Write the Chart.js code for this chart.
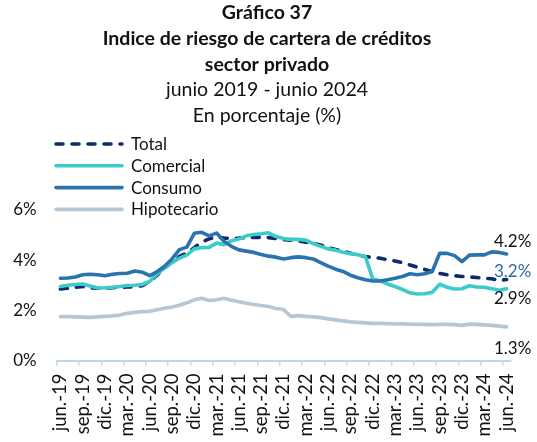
<!DOCTYPE html>
<html><head><meta charset="utf-8">
<script src="https://cdn.jsdelivr.net/npm/chart.js@4.4.1/dist/chart.umd.min.js"></script>
<style>html,body{margin:0;padding:0;background:#fff;overflow:hidden}</style>
</head><body>
<canvas id="c" width="537" height="442" style="display:block;width:537px;height:442px"></canvas>
<script>
const categories = [
 'jun.-19','jul.-19','ago.-19','sep.-19','oct.-19','nov.-19','dic.-19',
 'ene.-20','feb.-20','mar.-20','abr.-20','may.-20','jun.-20','jul.-20','ago.-20','sep.-20','oct.-20','nov.-20','dic.-20',
 'ene.-21','feb.-21','mar.-21','abr.-21','may.-21','jun.-21','jul.-21','ago.-21','sep.-21','oct.-21','nov.-21','dic.-21',
 'ene.-22','feb.-22','mar.-22','abr.-22','may.-22','jun.-22','jul.-22','ago.-22','sep.-22','oct.-22','nov.-22','dic.-22',
 'ene.-23','feb.-23','mar.-23','abr.-23','may.-23','jun.-23','jul.-23','ago.-23','sep.-23','oct.-23','nov.-23','dic.-23',
 'ene.-24','feb.-24','mar.-24','abr.-24','may.-24','jun.-24'];
const total = [2.85,2.88,2.92,2.95,2.90,2.88,2.88,2.90,2.92,2.93, 2.94,2.98,3.15,3.40,3.68,3.92,4.15,4.28,4.50,4.72,
 4.85,4.93,4.88,4.87,4.88,4.90,4.91,4.91,4.90,4.86, 4.82,4.80,4.76,4.72,4.67,4.60,4.50,4.43,4.36,4.28,
 4.20,4.14,4.11,4.08,4.02,3.97,3.90,3.81,3.72,3.63, 3.54,3.47,3.42,3.38,3.35,3.33,3.31,3.28,3.26,3.19,3.23];
const comercial = [2.95,3.00,3.03,3.05,2.97,2.89,2.90,2.92,2.95,2.99, 3.00,3.03,3.15,3.45,3.68,3.90,4.08,4.20,4.45,4.50,
 4.51,4.68,4.62,4.77,4.84,4.97,5.02,5.05,5.09,4.94, 4.86,4.83,4.83,4.80,4.66,4.55,4.45,4.40,4.32,4.26,
 4.22,4.15,3.25,3.18,3.05,2.95,2.83,2.70,2.65,2.66, 2.72,3.04,2.92,2.85,2.86,2.98,2.93,2.92,2.86,2.80,2.86];
const consumo = [3.28,3.29,3.33,3.42,3.44,3.42,3.38,3.44,3.47,3.48, 3.57,3.52,3.38,3.54,3.76,4.05,4.42,4.52,5.07,5.11,
 4.97,5.08,4.75,4.55,4.41,4.36,4.31,4.23,4.16,4.12, 4.05,4.10,4.13,4.10,4.05,3.90,3.76,3.64,3.55,3.40,
 3.30,3.22,3.17,3.17,3.22,3.28,3.35,3.46,3.42,3.46, 3.55,4.27,4.27,4.18,3.94,4.20,4.21,4.21,4.33,4.31,4.25];
const hipotecario = [1.75,1.75,1.74,1.73,1.72,1.74,1.76,1.78,1.81,1.88, 1.92,1.95,1.96,2.02,2.08,2.13,2.20,2.30,2.42,2.48,
 2.39,2.42,2.48,2.40,2.34,2.28,2.23,2.19,2.15,2.07, 2.03,1.76,1.79,1.76,1.74,1.71,1.66,1.62,1.58,1.54,
 1.52,1.50,1.48,1.48,1.47,1.46,1.46,1.45,1.44,1.44, 1.43,1.44,1.44,1.43,1.40,1.45,1.44,1.42,1.40,1.37,1.34];
const yTicks = [0, 2, 4, 6];
const seriesNames = ['Total', 'Comercial', 'Consumo', 'Hipotecario'];
const endLabels = ['3.2%', '2.9%', '4.2%', '1.3%'];
const titleLines = ['Gráfico 37', 'Indice de riesgo de cartera de créditos', 'sector privado'];
const subtitleLines = ['junio 2019 - junio 2024', 'En porcentaje (%)'];

const FONT = 'Lato';
const TXT = '#111111';
const AXIS = '#BDD7EE';
const colors = ['#0E2C6B', '#3CCBCB', '#2B73AE', '#B6C7D3'];
const endStyle = [{dy:-7.5,color:'#2E6DA4'},{dy:9.5,color:TXT},{dy:-12.5,color:TXT},{dy:21.5,color:TXT}];
const seriesData = [total, comercial, consumo, hipotecario];

const datasets = seriesNames.map((n, i) => ({
  label: n,
  data: seriesData[i],
  borderColor: colors[i],
  backgroundColor: colors[i],
  borderWidth: 3.6,
  borderDash: i === 0 ? [7, 9] : [],
  borderCapStyle: 'round',
  borderJoinStyle: 'round',
  pointRadius: 0,
  tension: 0,
  fill: false,
  order: 4 - i
}));

const overlay = {
  id: 'overlay',
  afterDraw(chart) {
    const ctx = chart.ctx;
    ctx.save();
    ctx.fillStyle = TXT;
    ctx.textAlign = 'center';
    ctx.textBaseline = 'middle';
    const cx = 267;
    const ys = [13, 39, 64.5, 90, 116];
    titleLines.forEach((t, i) => { ctx.font = 'bold 19.5px ' + FONT; ctx.fillText(t, cx, ys[i]); });
    subtitleLines.forEach((t, i) => { ctx.font = '19.5px ' + FONT; ctx.fillText(t, cx, ys[3 + i]); });
    // legend
    const ly = [144, 165.8, 187.6, 209.4];
    chart.data.datasets.forEach((ds, i) => {
      ctx.beginPath();
      ctx.strokeStyle = ds.borderColor;
      ctx.lineWidth = ds.borderWidth;
      ctx.lineCap = 'round';
      ctx.setLineDash(ds.borderDash);
      ctx.moveTo(56, ly[i]);
      ctx.lineTo(122, ly[i]);
      ctx.stroke();
      ctx.setLineDash([]);
      ctx.fillStyle = TXT;
      ctx.font = '17px ' + FONT;
      ctx.textAlign = 'left';
      ctx.fillText(ds.label, 131, ly[i] + 0.5);
    });
    // end labels
    const area = chart.chartArea;
    chart.data.datasets.forEach((ds, i) => {
      const meta = chart.getDatasetMeta(i);
      const last = meta.data[meta.data.length - 1];
      ctx.fillStyle = endStyle[i].color;
      ctx.font = '17px ' + FONT;
      ctx.textAlign = 'right';
      ctx.fillText(endLabels[i], area.right + 21, last.y + endStyle[i].dy);
    });
    ctx.restore();
  }
};

new Chart(document.getElementById('c'), {
  type: 'line',
  data: { labels: categories, datasets },
  options: {
    responsive: false,
    animation: false,
    devicePixelRatio: 1,
    layout: { padding: { top: 210, right: 25.2, bottom: 0, left: 0 } },
    plugins: { legend: { display: false }, title: { display: false }, tooltip: { enabled: false } },
    scales: {
      x: {
        type: 'category',
        offset: true,
        grid: {
          offset: true,
          drawOnChartArea: false,
          drawTicks: true,
          tickLength: 5,
          lineWidth: 1.5,
          color: (c) => (c.index % 3 === 0 ? AXIS : 'rgba(0,0,0,0)')
        },
        border: { display: true, color: AXIS, width: 2 },
        ticks: {
          autoSkip: false,
          minRotation: 90,
          maxRotation: 90,
          padding: 8,
          color: TXT,
          font: { family: FONT, size: 18.5 },
          callback: function (v, i) { return i % 3 === 0 ? this.getLabelForValue(v) : ''; }
        },
        afterFit: (s) => { s.height = 81.5; }
      },
      y: {
        min: 0, max: 6,
        grid: { display: false, drawTicks: false },
        border: { display: false },
        ticks: {
          padding: 20,
          color: TXT,
          font: { family: FONT, size: 17 },
          callback: (v) => v + '%'
        },
        afterBuildTicks: (s) => { s.ticks = yTicks.map(v => ({ value: v })); },
        afterFit: (s) => { s.width = 56.7; }
      }
    }
  },
  plugins: [overlay]
});
</script>
</body></html>
